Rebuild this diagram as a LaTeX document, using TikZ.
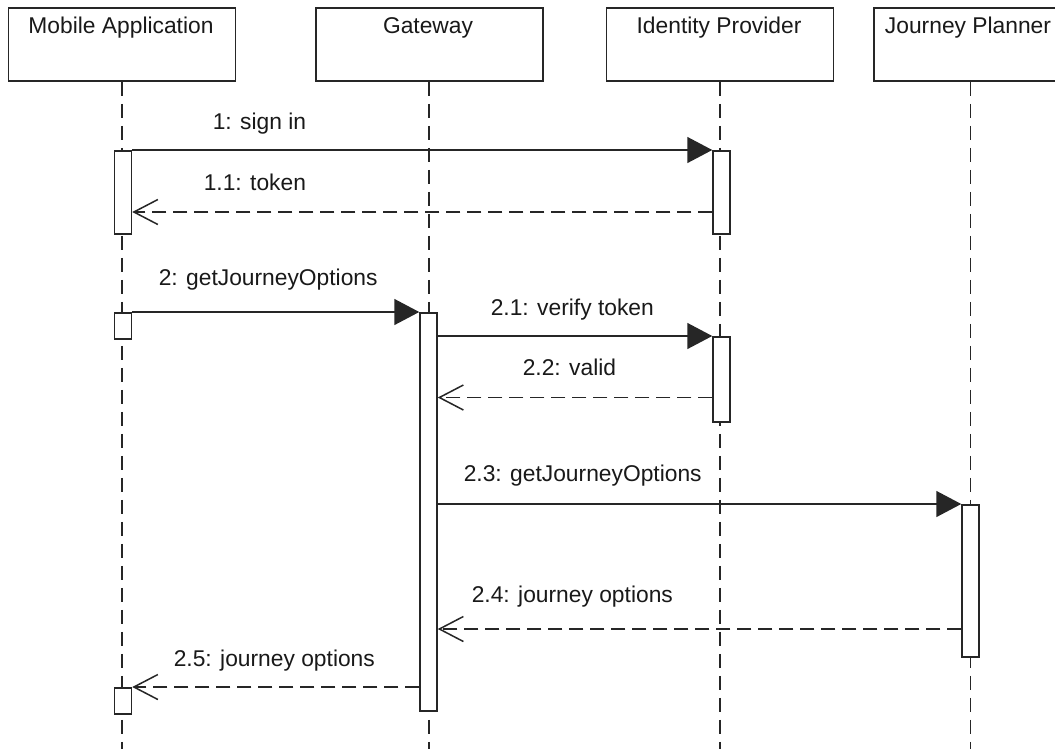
\documentclass[tikz,border=0pt]{standalone}
\usepackage{fontspec}
\setmainfont{Liberation Sans}
\usetikzlibrary{arrows.meta}
\begin{document}
\begin{tikzpicture}[x=1pt,y=-1pt,
  line width=1.5pt,
  every node/.style={font=\fontsize{22.8}{27}\selectfont, text=black!90},
  actor/.style={draw=black!85, rectangle, minimum width=227pt, minimum height=73pt, inner sep=0pt},
  actortext/.style={anchor=base, inner sep=0pt},
  lifeline/.style={draw=black!85, dash pattern=on 14pt off 8pt},
  bar/.style={draw=black!85, fill=white, rectangle, minimum width=17pt, inner sep=0pt},
  msglabel/.style={anchor=base west, inner sep=0pt},
  call/.style={draw=black!85, -{Triangle[length=25pt,width=26pt]}},
  reply/.style={draw=black!85, dash pattern=on 14pt off 7pt, -{Straight Barb[length=24pt,width=25pt,line width=1.5pt]}}
]
\useasboundingbox (0,0) rectangle (1055,748);
\clip (0,0) rectangle (1055,748);
\fill[white] (0,0) rectangle (1055,748);

% actor boxes
\node[actor] (ma) at (122,44.5) {};
\node[actor] (gw) at (429.5,44.5) {};
\node[actor] (ip) at (720,44.5) {};
\node[actor, minimum width=193pt] (jp) at (970.5,44.5) {};
\node[actortext] (maT) at (121,33.5) {Mobile Application};
\node[actortext] (gwT) at (428,33.5) {Gateway};
\node[actortext] (ipT) at (719,33.5) {Identity Provider};
\node[actortext] (jpT) at (968,33.5) {Journey Planner};

% lifeline ends
\coordinate (maE) at (122,760);
\coordinate (gwE) at (429,760);
\coordinate (ipE) at (720,760);
\coordinate (jpE) at (970.5,760);
\draw[lifeline] (ma.south) -- (maE);
\draw[lifeline] (gw.south -| gwE) -- (gwE);
\draw[lifeline] (ip.south) -- (ipE);
\draw[lifeline] (jp.south) -- (jpE);

% activation bars
\node[bar, minimum height=83pt, anchor=north] (mab1) at (123,150) {};
\node[bar, minimum height=83pt, anchor=north] (ipb1) at (721.5,150) {};
\node[bar, minimum height=26pt, anchor=north] (mab2) at (123,312) {};
\node[bar, minimum height=398pt, anchor=north] (gwb) at (428.5,312) {};
\node[bar, minimum height=85pt, anchor=north] (ipb2) at (721.5,336) {};
\node[bar, minimum height=152pt, anchor=north] (jpb) at (970.5,504) {};
\node[bar, minimum height=26pt, anchor=north] (mab3) at (123,687) {};

% messages
\draw[call] (mab1.north east) -- (ipb1.north west);
\draw[reply] ([yshift=-62pt]ipb1.north west) -- ([yshift=-62pt]mab1.north east);
\draw[call] (mab2.north east) -- (gwb.north west);
\draw[call] ([yshift=-24pt]gwb.north east) -- (ipb2.north west);
\draw[reply] ([yshift=-61.5pt]ipb2.north west) -- ([yshift=-85.5pt]gwb.north east);
\draw[call] ([yshift=-192pt]gwb.north east) -- (jpb.north west);
\draw[reply] ([yshift=-125pt]jpb.north west) -- ([yshift=-317pt]gwb.north east);
\draw[reply] ([yshift=-375pt]gwb.north west) -- (mab3.north east);

% labels
\node[msglabel] (l1) at (212,129.5) {1: sign in};
\node[msglabel] (l11) at (203,190.5) {1.1: token};
\node[msglabel] (l2) at (158,285.5) {2: getJourneyOptions};
\node[msglabel] (l21) at (490,315) {2.1: verify token};
\node[msglabel] (l22) at (522,375.5) {2.2: valid};
\node[msglabel] (l23) at (463,481.5) {2.3: getJourneyOptions};
\node[msglabel] (l24) at (471,602.5) {2.4: journey options};
\node[msglabel] (l25) at (173,666.5) {2.5: journey options};
\end{tikzpicture}
\end{document}
